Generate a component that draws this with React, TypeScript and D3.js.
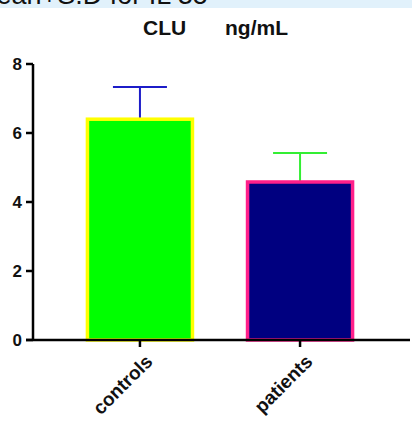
import * as d3 from "d3";

const groups = ["controls", "patients"];
const means = [6.4, 4.58];
const sds = [0.93, 0.84];
const fills = ["#00ff00", "#000080"];
const strokes = ["#ffff00", "#ff1f8a"];
const errColors = ["#1c1cc8", "#33ee33"];
const yTicks = [0, 2, 4, 6, 8];

const W = 412;
const H = 421;
const margin = { top: 64, right: 5, bottom: 81, left: 33 };

export default function App() {
  const x = d3
    .scaleBand()
    .domain(groups)
    .range([margin.left, W - margin.right])
    .paddingInner(0.344)
    .paddingOuter(0.34);

  const y = d3.scaleLinear().domain([0, 8]).range([H - margin.bottom, margin.top]);

  const font = "'Liberation Sans', Arial, sans-serif";

  return (
    <svg
      width={W}
      height={H}
      style={{ position: "absolute", left: 0, top: 0, background: "#fff" }}
      fontFamily={font}
    >
      {/* cut-off caption from the page above */}
      <rect x={0} y={0} width={W} height={8} fill="#e1f1fb" />
      <text x={-26} y={4} fontSize={27} fill="#111">
        Mean+S.D for IL 35
      </text>

      <text x={143} y={35} fontSize={21} fontWeight="bold" fill="#111">
        CLU
      </text>
      <text x={225} y={35} fontSize={21} fontWeight="bold" fill="#111">
        ng/mL
      </text>

      {groups.map((g, i) => {
        const bx = x(g)!;
        const cx = bx + x.bandwidth() / 2;
        const capW = 54;
        return (
          <g key={g}>
            <line
              x1={cx}
              x2={cx}
              y1={y(means[i])}
              y2={y(means[i] + sds[i])}
              stroke={errColors[i]}
              strokeWidth={2}
            />
            <line
              x1={cx - capW / 2}
              x2={cx + capW / 2}
              y1={y(means[i] + sds[i])}
              y2={y(means[i] + sds[i])}
              stroke={errColors[i]}
              strokeWidth={2}
            />
            <rect
              x={bx}
              y={y(means[i])}
              width={x.bandwidth()}
              height={y(0) - y(means[i])}
              fill={fills[i]}
              stroke={strokes[i]}
              strokeWidth={3.5}
            />
          </g>
        );
      })}

      {/* y axis */}
      <line
        x1={margin.left}
        x2={margin.left}
        y1={y(0)}
        y2={y(8)}
        stroke="#000"
        strokeWidth={2.5}
      />
      {yTicks.map((t) => (
        <g key={t}>
          <line
            x1={margin.left - 7}
            x2={margin.left}
            y1={y(t)}
            y2={y(t)}
            stroke="#000"
            strokeWidth={2.5}
          />
          <text
            x={margin.left - 11}
            y={y(t)}
            dy="0.36em"
            textAnchor="end"
            fontSize={17}
            fontWeight="bold"
            fill="#111"
          >
            {t}
          </text>
        </g>
      ))}

      {/* x axis */}
      <line
        x1={margin.left - 7}
        x2={W - 2}
        y1={y(0)}
        y2={y(0)}
        stroke="#000"
        strokeWidth={2.5}
      />
      {groups.map((g) => {
        const cx = x(g)! + x.bandwidth() / 2;
        return (
          <g key={g}>
            <line x1={cx} x2={cx} y1={y(0)} y2={y(0) + 7} stroke="#000" strokeWidth={2.5} />
            <text
              transform={`translate(${cx + 9},${y(0) + 18}) rotate(-45)`}
              textAnchor="end"
              dy="0.35em"
              fontSize={19}
              fontWeight="bold"
              fill="#111"
            >
              {g}
            </text>
          </g>
        );
      })}
    </svg>
  );
}
